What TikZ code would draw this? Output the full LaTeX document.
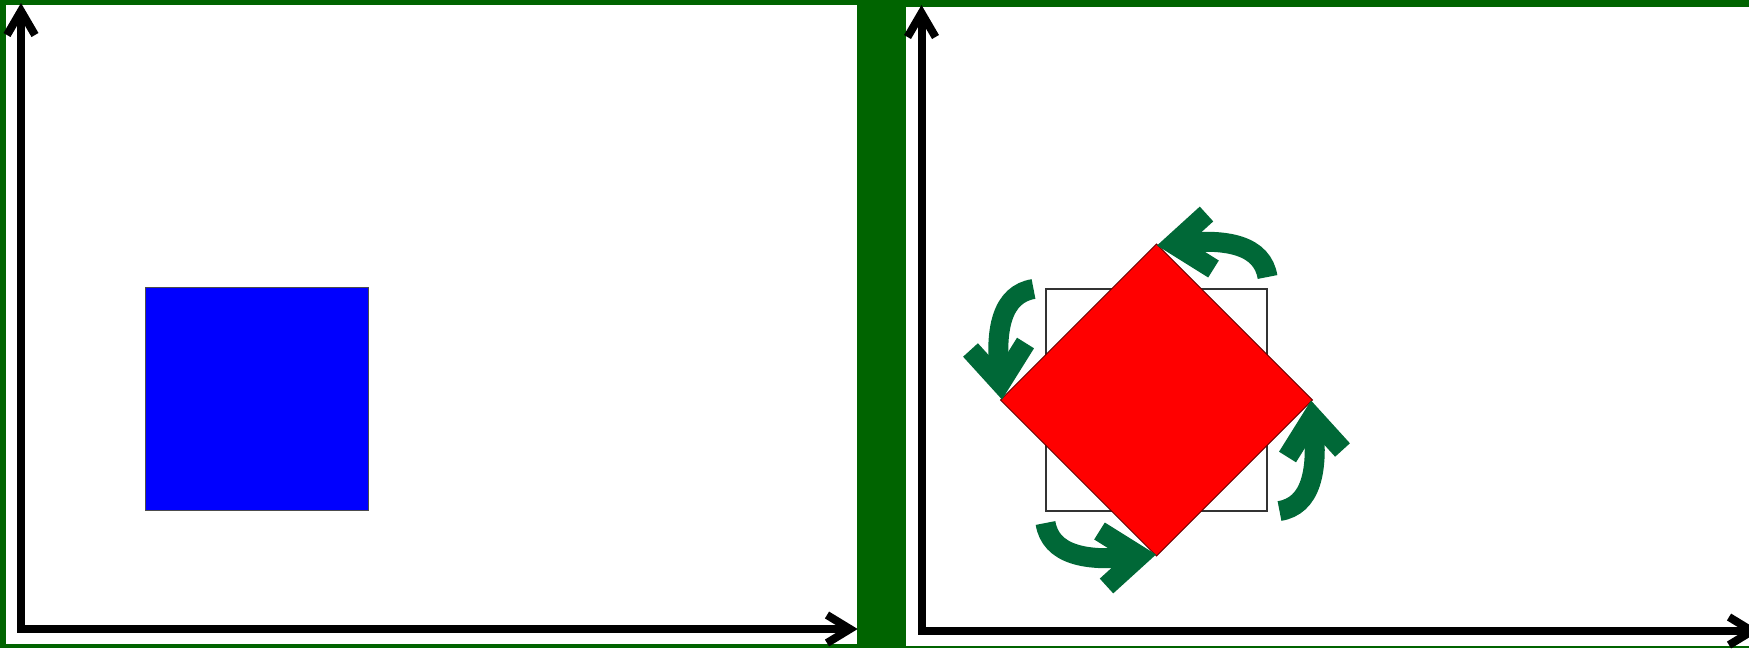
\documentclass[tikz,border=0pt]{standalone}
\definecolor{bggreen}{RGB}{0,100,0}
\definecolor{arrgreen}{RGB}{0,104,55}
\definecolor{sqblue}{RGB}{0,0,255}
\definecolor{sqred}{RGB}{255,0,0}
\tikzset{
  axisline/.style={line width=4pt, black, line join=miter, line cap=butt},
  axishead/.style={line width=4pt, black, line join=miter, line cap=butt},
  garrow/.style={line width=10pt, arrgreen, line cap=butt},
  ghead/.style={line width=10pt, arrgreen, line join=miter, line cap=butt, miter limit=10},
  thinsq/.style={line width=0.7pt, black!80},
}
\begin{document}
\begin{tikzpicture}[x=0.5pt, y=-0.5pt]
\useasboundingbox (0,0) rectangle (1749,648);
\clip (0,0) rectangle (1749,648);
% background and panels
\fill[bggreen] (0,0) rectangle (1749,648);
\fill[white] (6,5) rectangle (857,644);
\fill[white] (906,7) rectangle (1749,646);
% left axes
\draw[axisline] (21,11) -- (21,629) -- (850,629);
\draw[axishead] (7,35) -- (21,11) -- (35,35);
\draw[axishead] (827,615) -- (850,629) -- (827,643);
% blue square
\draw[fill=sqblue, draw=black!70, line width=0.5pt] (145,287) rectangle (368,510);
% right axes
\draw[axisline] (921.5,13) -- (921.5,631) -- (1752,631);
\draw[axishead] (907.5,37) -- (921.5,13) -- (935.5,37);
\draw[axishead] (1729,617) -- (1752,631) -- (1729,645);
% original square outline
\draw[thinsq] (1046,289) rectangle (1267,511);
% rotated square
\draw[fill=sqred, draw=black!60!red, line width=0.5pt]
  (1156.5,244) -- (1312.5,400) -- (1156.5,556) -- (1000.5,400) -- cycle;
% rotation arrows
\foreach \r in {0,90,180,270} {
  \begin{scope}[shift={(1156.5,400)}, rotate=\r]
    \draw[garrow] (111,-123) .. controls (106,-154) and (72,-163) .. (18,-156);
    \draw[ghead] (50,-186) -- (17,-156) -- (57,-131);
  \end{scope}
}
\end{tikzpicture}
\end{document}
